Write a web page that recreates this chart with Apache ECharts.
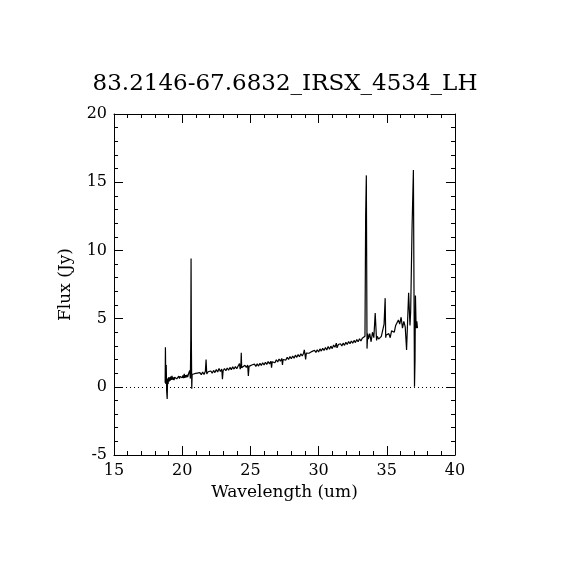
<!DOCTYPE html>
<html lang="en">
<head>
    <meta charset="UTF-8">
    <title>83.2146-67.6832_IRSX_4534_LH</title>
    <style>
        * { padding: 0; margin: 0; box-sizing: border-box; }
        html, body { width: 100%; height: 100%; overflow: hidden; background: #fff; }
        #box { width: 570px; height: 570px; }
    </style>
</head>
<body>
    <div id="box"></div>
</body>
<script src="https://cdn.jsdelivr.net/npm/echarts@6/dist/echarts.min.js"></script>
<script>
    var chartTitle = '83.2146-67.6832_IRSX_4534_LH';
    var xName = 'Wavelength (um)';
    var yName = 'Flux (Jy)';

    // spectrum (um, Jy)
    var wavelength = [
        18.75, 18.77, 18.80, 18.83, 18.86, 18.90, 18.93, 18.97,
        19.00, 19.05, 19.08, 19.12, 19.15, 19.20, 19.25, 19.30, 19.35, 19.40, 19.45, 19.50,
        19.55, 19.60, 19.65, 19.70, 19.75, 19.80, 19.85, 19.90, 19.95, 20.00,
        20.05, 20.10, 20.15, 20.20, 20.25, 20.30, 20.35, 20.40, 20.45, 20.50,
        20.55, 20.60, 20.63, 20.65, 20.67, 20.70, 20.73,
        20.80, 20.90, 21.00, 21.10, 21.20, 21.30, 21.40, 21.50, 21.60, 21.70, 21.75, 21.80, 21.90,
        22.00, 22.10, 22.20, 22.30, 22.40, 22.50, 22.60, 22.70, 22.80, 22.90, 22.95,
        23.00, 23.10, 23.20, 23.30, 23.40, 23.50, 23.60, 23.70, 23.80, 23.90,
        24.00, 24.10, 24.20, 24.25, 24.30, 24.33, 24.36, 24.40, 24.50, 24.60, 24.70, 24.80, 24.85, 24.90,
        25.00, 25.10, 25.20, 25.30, 25.40, 25.50, 25.60, 25.70, 25.80, 25.90,
        26.00, 26.10, 26.20, 26.30, 26.40, 26.50, 26.55, 26.60, 26.70, 26.80, 26.90,
        27.00, 27.10, 27.20, 27.30, 27.35, 27.40, 27.50, 27.60, 27.70, 27.80, 27.90,
        28.00, 28.10, 28.20, 28.30, 28.40, 28.50, 28.60, 28.70, 28.80, 28.90, 28.95,
        29.00, 29.05, 29.10, 29.20, 29.30, 29.40, 29.50, 29.60, 29.70, 29.80, 29.90,
        30.00, 30.10, 30.20, 30.30, 30.40, 30.50, 30.60, 30.70, 30.80, 30.90,
        31.00, 31.10, 31.20, 31.30, 31.35, 31.40, 31.45, 31.50, 31.60, 31.70, 31.80, 31.90,
        32.00, 32.10, 32.20, 32.30, 32.40, 32.50, 32.60, 32.70, 32.80, 32.90,
        33.00, 33.10, 33.20, 33.30, 33.40, 33.45, 33.50,
        33.55, 33.60, 33.65, 33.75, 33.85, 33.95, 34.05, 34.15, 34.25, 34.30,
        34.40, 34.50, 34.60, 34.70, 34.80, 34.88, 34.92, 34.96, 35.05, 35.15,
        35.25, 35.35, 35.45, 35.55, 35.65, 35.75, 35.85, 35.95, 36.05, 36.15,
        36.25, 36.35, 36.45, 36.55, 36.60, 36.70, 36.75, 36.85, 36.95, 37.00,
        37.03, 37.07, 37.10, 37.15, 37.20, 37.25, 37.30
    ];
    var flux = [
        0.30, 2.90, 0.20, 1.60, -0.30, -0.90, 0.60, 0.20,
        0.70, 0.40, 0.70, 0.45, 0.75, 0.50, 0.80, 0.52, 0.68, 0.50, 0.70, 0.58,
        0.66, 0.58, 0.70, 0.54, 0.78, 0.60, 0.76, 0.62, 0.80, 0.66,
        0.84, 0.64, 0.95, 0.66, 0.86, 0.70, 0.88, 0.72, 0.90, 0.78,
        1.20, 0.60, 3.60, 9.40, 3.60, -0.15, 0.90,
        0.80, 0.96, 0.84, 1.00, 0.86, 1.04, 0.88, 1.08, 0.90, 1.14, 2.00, 0.94, 1.10,
        0.98, 1.16, 1.00, 1.20, 1.04, 1.26, 1.08, 1.34, 1.12, 1.30, 0.55,
        1.18, 1.34, 1.18, 1.38, 1.22, 1.42, 1.26, 1.46, 1.30, 1.48,
        1.32, 1.52, 1.70, 1.30, 1.45, 2.50, 1.40, 1.54, 1.40, 1.58, 1.42, 1.60, 0.80, 1.50,
        1.42, 1.60, 1.46, 1.66, 1.50, 1.68, 1.52, 1.72, 1.56, 1.76,
        1.60, 1.80, 1.64, 1.86, 1.68, 1.88, 1.40, 1.84, 1.92, 1.76, 1.98,
        1.82, 2.04, 1.88, 2.08, 1.60, 2.00, 2.12, 1.96, 2.16, 2.00, 2.22,
        2.06, 2.26, 2.10, 2.32, 2.16, 2.36, 2.20, 2.42, 2.26, 2.46, 2.70,
        2.40, 2.00, 2.48, 2.42, 2.46, 2.48, 2.58, 2.50, 2.68, 2.52,
        2.72, 2.56, 2.78, 2.62, 2.82, 2.66, 2.88, 2.70, 2.96, 2.76,
        2.98, 2.80, 3.06, 2.90, 3.20, 2.86, 2.80, 3.10, 2.96, 3.16, 3.00, 3.20,
        3.04, 3.26, 3.10, 3.32, 3.16, 3.36, 3.20, 3.40, 3.24, 3.46,
        3.30, 3.52, 3.36, 3.56, 3.42, 3.70, 12.60,
        15.50, 2.80, 3.90, 3.50, 3.90, 3.30, 4.00, 3.60, 5.40, 3.40,
        3.70, 3.50, 3.60, 3.70, 3.60, 4.60, 6.50, 3.60, 3.80, 3.70,
        3.90, 3.60, 4.10, 4.20, 4.00, 4.50, 4.40, 4.90, 4.60, 5.10,
        4.30, 4.80, 4.40, 2.70, 5.50, 6.90, 4.50, 5.50, 11.60, 15.90,
        6.00, 0.00, 2.00, 6.70, 4.30, 4.80, 4.30
    ];
    var xTicks = [15, 20, 25, 30, 35, 40];
    var yTicks = [-5, 0, 5, 10, 15, 20];

    var spectrum = wavelength.map(function (w, i) { return [w, flux[i]]; });

    var font = 'DejaVu Serif';
    var axisBase = {
        type: 'value',
        axisLine: { show: true, onZero: false, lineStyle: { color: '#000', width: 1 } },
        axisTick: { show: true, inside: true, length: 9, lineStyle: { color: '#000' } },
        minorTick: { show: true, splitNumber: 5, length: 4, lineStyle: { color: '#000' } },
        splitLine: { show: false },
        minorSplitLine: { show: false }
    };
    function axis(extra) {
        return Object.assign({}, axisBase, extra);
    }

    var box = echarts.init(document.getElementById('box'));
    var option = {
        backgroundColor: '#fff',
        animation: false,
        title: {
            text: chartTitle,
            left: 'center',
            top: 68,
            textStyle: { fontFamily: font, fontSize: 23, fontWeight: 'normal', color: '#000' }
        },
        grid: { left: 114, right: 115, top: 114, bottom: 115 },
        xAxis: [
            axis({
                min: xTicks[0], max: xTicks[xTicks.length - 1], interval: 5,
                position: 'bottom',
                name: xName, nameLocation: 'middle', nameGap: 29,
                nameTextStyle: { fontFamily: font, fontSize: 17, color: '#000' },
                axisLabel: { margin: 8, fontFamily: font, fontSize: 16, color: '#000' }
            }),
            axis({
                min: xTicks[0], max: xTicks[xTicks.length - 1], interval: 5,
                position: 'top',
                axisLabel: { show: false }
            })
        ],
        yAxis: [
            axis({
                min: yTicks[0], max: yTicks[yTicks.length - 1], interval: 5,
                position: 'left',
                name: yName, nameLocation: 'middle', nameGap: 40,
                nameTextStyle: { fontFamily: font, fontSize: 17, color: '#000' },
                axisLabel: { margin: 7, fontFamily: font, fontSize: 16, color: '#000' }
            }),
            axis({
                min: yTicks[0], max: yTicks[yTicks.length - 1], interval: 5,
                position: 'right',
                axisLabel: { show: false }
            })
        ],
        series: [
            {
                type: 'line',
                data: spectrum,
                xAxisIndex: 0,
                yAxisIndex: 0,
                showSymbol: false,
                symbol: 'none',
                lineStyle: { color: '#000', width: 1.2 },
                markLine: {
                    silent: true,
                    symbol: 'none',
                    label: { show: false },
                    lineStyle: { color: '#000', type: [1, 3], width: 1 },
                    data: [{ yAxis: 0 }]
                }
            }
        ]
    };
    box.setOption(option);
</script>
</html>
